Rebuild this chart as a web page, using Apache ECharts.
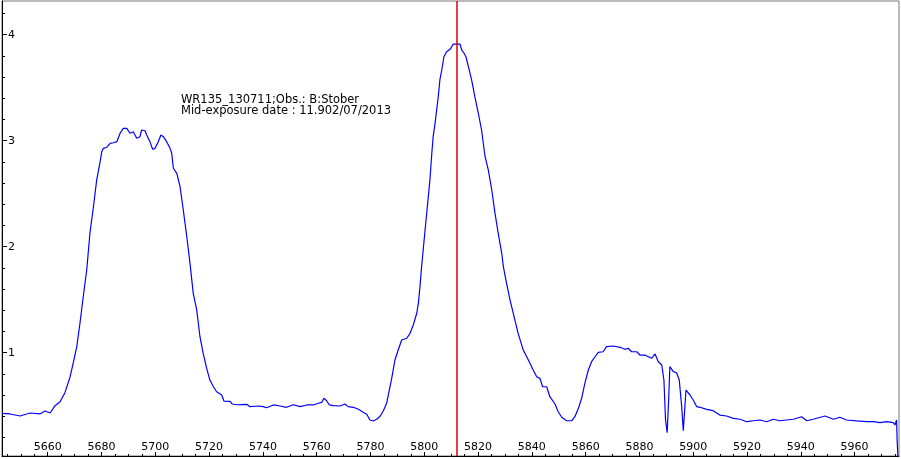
<!DOCTYPE html>
<html>
<head>
<meta charset="utf-8">
<script src="https://cdn.jsdelivr.net/npm/echarts@6/dist/echarts.min.js"></script>
<style>
html,body{margin:0;padding:0;background:#fff;}
#chart{width:901px;height:459px;}
</style>
</head>
<body>
<div id="chart"></div>
<script>
// Wavelength (Angstrom)
const wavelength = [
5643.0,5646.0,5649.7,5653.4,5657.1,5659.0,5660.9,5662.7,5664.6,5666.4,
5668.3,5669.5,5670.8,5672.0,5673.2,5674.5,5675.7,5677.0,5678.2,5679.4,
5680.1,5680.7,5681.9,5683.2,5684.4,5685.7,5686.9,5688.1,5689.4,5690.6,
5691.8,5693.1,5694.3,5694.9,5696.2,5696.8,5698.0,5699.0,5699.9,5701.1,
5702.1,5703.0,5704.2,5705.5,5706.1,5706.7,5708.0,5709.2,5710.4,5711.7,
5712.9,5714.1,5715.4,5716.6,5717.8,5719.1,5720.3,5721.6,5722.8,5724.7,
5725.5,5727.8,5728.6,5730.3,5734.0,5735.2,5738.3,5740.1,5741.4,5743.9,
5746.4,5748.8,5751.3,5753.8,5756.3,5758.7,5760.6,5761.9,5762.7,5763.7,
5764.7,5766.2,5768.7,5770.5,5771.7,5773.6,5775.5,5777.3,5778.6,5779.8,
5781.0,5782.3,5783.5,5784.8,5786.0,5787.0,5787.9,5789.1,5790.3,5791.6,
5793.5,5794.7,5795.9,5797.2,5797.8,5798.4,5799.0,5799.6,5800.3,5800.9,
5801.5,5802.1,5802.8,5803.3,5804.0,5805.2,5805.8,5806.5,5807.3,5808.3,
5809.6,5810.8,5812.0,5813.3,5813.9,5814.8,5815.5,5816.4,5817.6,5818.8,
5820.1,5821.3,5822.6,5823.2,5823.8,5825.1,5826.3,5827.5,5828.8,5829.4,
5830.6,5831.9,5833.7,5834.9,5836.8,5838.7,5840.5,5841.8,5843.0,5844.0,
5845.5,5846.7,5848.6,5849.8,5851.1,5852.9,5854.8,5856.0,5857.3,5858.5,
5859.7,5861.0,5862.2,5863.5,5864.7,5866.5,5867.8,5870.3,5872.8,5874.6,
5875.8,5877.1,5879.0,5880.2,5882.0,5883.3,5884.5,5885.8,5887.0,5888.3,
5889.1,5889.7,5890.3,5890.9,5891.3,5892.6,5893.8,5894.8,5895.7,5896.3,
5896.9,5897.3,5898.8,5900.0,5901.3,5902.5,5905.0,5907.4,5909.9,5912.4,
5914.9,5917.4,5919.9,5922.3,5924.8,5927.3,5929.7,5932.2,5934.7,5937.2,
5940.3,5942.2,5944.6,5949.0,5952.1,5954.5,5957.0,5960.8,5964.5,5966.9,
5969.4,5971.9,5974.4,5975.0,5975.6,5975.8,5976.1
];
// Relative flux
const flux = [
0.428,0.422,0.403,0.431,0.422,0.450,0.431,0.500,0.538,0.623,
0.771,0.903,1.057,1.280,1.528,1.780,2.129,2.377,2.629,2.790,
2.896,2.928,2.938,2.975,2.981,2.991,3.070,3.117,3.117,3.070,
3.085,3.023,3.038,3.101,3.094,3.054,2.991,2.919,2.928,2.991,
3.054,3.038,2.991,2.928,2.881,2.740,2.692,2.566,2.346,2.094,
1.843,1.560,1.403,1.151,0.994,0.853,0.742,0.679,0.632,0.601,
0.544,0.540,0.516,0.509,0.513,0.491,0.497,0.491,0.481,0.507,
0.497,0.485,0.509,0.491,0.507,0.507,0.523,0.532,0.570,0.547,
0.507,0.500,0.497,0.516,0.491,0.485,0.466,0.438,0.419,0.365,
0.356,0.372,0.398,0.453,0.523,0.648,0.761,0.931,1.025,1.120,
1.136,1.183,1.261,1.372,1.466,1.623,1.811,1.969,2.158,2.315,
2.472,2.629,2.881,3.038,3.164,3.415,3.573,3.667,3.792,3.840,
3.862,3.912,3.912,3.912,3.856,3.825,3.792,3.698,3.573,3.415,
3.259,3.101,2.849,2.865,2.724,2.535,2.315,2.126,1.938,1.811,
1.655,1.497,1.308,1.183,1.025,0.931,0.837,0.774,0.758,0.679,
0.679,0.585,0.516,0.443,0.391,0.358,0.358,0.396,0.475,0.570,
0.711,0.837,0.915,0.962,1.004,1.009,1.057,1.063,1.051,1.032,
1.042,1.009,1.009,0.978,0.978,0.962,0.947,0.988,0.915,0.884,
0.742,0.365,0.245,0.585,0.868,0.821,0.811,0.742,0.491,0.264,
0.491,0.648,0.601,0.554,0.491,0.485,0.466,0.453,0.412,0.403,
0.381,0.372,0.349,0.358,0.365,0.349,0.372,0.358,0.365,0.372,
0.396,0.358,0.372,0.403,0.372,0.391,0.365,0.356,0.349,0.349,
0.340,0.349,0.340,0.318,0.365,0.176,0.016
];
const xTickLabels = [5660,5680,5700,5720,5740,5760,5780,5800,5820,5840,5860,5880,5900,5920,5940,5960];
const xMinorTicks = [];
for (let v = 5645; v <= 5975; v += 5) xMinorTicks.push(v);
const yTickLabels = [1,2,3,4];
const yMinorTicks = [0.2,0.4,0.6,0.8,1.2,1.4,1.6,1.8,2.2,2.4,2.6,2.8,3.2,3.4,3.6,3.8,4.2];
const redLineWavelength = 5811.9;
const annotationLines = ['WR135_130711;Obs.: B:Stober', 'Mid-exposure date : 11.902/07/2013'];

const X_MIN = 5643.0, X_MAX = 5976.5, Y_MIN = 0.0255, Y_MAX = 4.318;
const FONT = 'DejaVu Sans';

const chart = echarts.init(document.getElementById('chart'), null, {renderer: 'canvas'});
const data = wavelength.map((w, i) => [w, flux[i]]);

chart.setOption({
  animation: false,
  backgroundColor: '#ffffff',
  grid: {left: 2, right: 2, top: 1, bottom: 3, show: true, borderColor: '#777', borderWidth: 1},
  xAxis: [
    {
      type: 'value', min: X_MIN, max: X_MAX, position: 'bottom',
      axisLine: {show: true, onZero: false, lineStyle: {color: '#000', width: 1}},
      axisTick: {show: true, inside: true, length: 4, customValues: xTickLabels, lineStyle: {color: '#000'}},
      axisLabel: {show: true, inside: true, margin: 3, customValues: xTickLabels, color: '#000', fontSize: 11, fontFamily: FONT,
        formatter: v => String(Math.round(v))},
      splitLine: {show: false}
    },
    {
      type: 'value', min: X_MIN, max: X_MAX, position: 'bottom',
      axisLine: {show: false},
      axisTick: {show: true, inside: true, length: 2, customValues: xMinorTicks, lineStyle: {color: '#000'}},
      axisLabel: {show: false},
      splitLine: {show: false}
    }
  ],
  yAxis: [
    {
      type: 'value', min: Y_MIN, max: Y_MAX, position: 'left',
      axisLine: {show: true, onZero: false, lineStyle: {color: '#000', width: 1}},
      axisTick: {show: true, inside: true, length: 5, customValues: yTickLabels, lineStyle: {color: '#000'}},
      axisLabel: {show: true, inside: true, margin: 6, customValues: yTickLabels, color: '#000', fontSize: 11, fontFamily: FONT,
        formatter: v => String(Math.round(v))},
      splitLine: {show: false}
    },
    {
      type: 'value', min: Y_MIN, max: Y_MAX, position: 'left',
      axisLine: {show: false},
      axisTick: {show: true, inside: true, length: 3, customValues: yMinorTicks, lineStyle: {color: '#000'}},
      axisLabel: {show: false},
      splitLine: {show: false}
    }
  ],
  graphic: [
    {
      type: 'text', left: 181, top: 94, silent: true,
      style: {text: annotationLines.join('\n'), fill: '#000', font: '11.5px "DejaVu Sans"', lineHeight: 11.5}
    }
  ],
  series: [
    {
      type: 'line', xAxisIndex: 0, yAxisIndex: 0, data: data,
      showSymbol: false, symbol: 'none', smooth: false,
      lineStyle: {color: '#0000ff', width: 1.2},
      markLine: {
        silent: true, symbol: ['none', 'none'], animation: false,
        label: {show: false},
        lineStyle: {color: '#dd0000', width: 1.5, type: 'solid'},
        data: [{xAxis: redLineWavelength}]
      }
    }
  ]
});
</script>
</body>
</html>
